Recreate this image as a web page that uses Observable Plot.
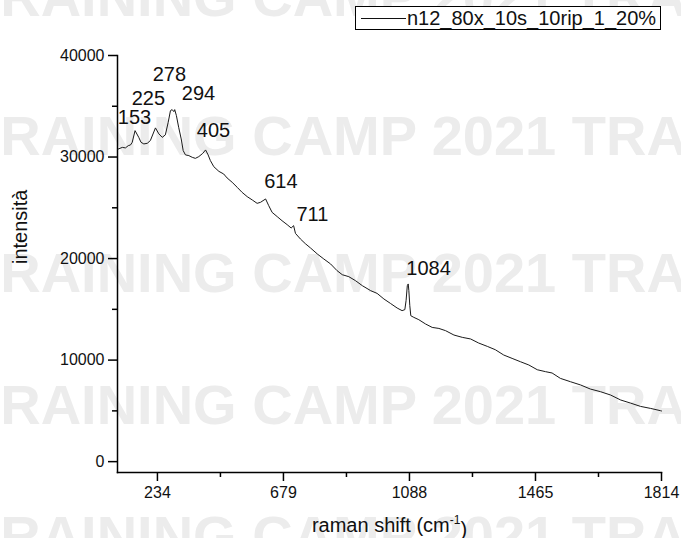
<!DOCTYPE html>
<html><head><meta charset="utf-8">
<script src="https://cdn.jsdelivr.net/npm/d3@7"></script>
<script src="https://cdn.jsdelivr.net/npm/@observablehq/plot@0.6"></script>
<style>
html,body{margin:0;padding:0;background:#fff;}
#wrap{position:relative;width:681px;height:538px;overflow:hidden;font-family:Arial,"Liberation Sans",sans-serif;}
.wm{position:absolute;left:-34px;font-weight:bold;font-size:56px;font-family:Arial,"Liberation Sans",sans-serif;line-height:56px;color:#ececec;white-space:nowrap;z-index:0;}
#legendRow{position:relative;height:36px;z-index:1;}
#legend{position:absolute;left:355px;top:6px;width:304px;height:22px;border:1px solid #000;background:#fff;}
#legend .ln{position:absolute;left:5px;top:11px;width:45px;border-top:1px solid #111;}
#legend .tx{position:absolute;left:51px;top:0px;font-size:20px;line-height:22px;color:#111;white-space:nowrap;}
#chart{position:relative;z-index:1;}
</style>
</head><body>
<div id="wrap">
  <div class="wm" style="top:-31px">TRAINING CAMP 2021 TRAINING CAMP</div>
  <div class="wm" style="top:108px">TRAINING CAMP 2021 TRAINING CAMP</div>
  <div class="wm" style="top:245px">TRAINING CAMP 2021 TRAINING CAMP</div>
  <div class="wm" style="top:377px">TRAINING CAMP 2021 TRAINING CAMP</div>
  <div class="wm" style="top:508px">TRAINING CAMP 2021 TRAINING CAMP</div>
  <div id="legendRow"><div id="legend"><div class="ln"></div><div class="tx" id="legtext"></div></div></div>
  <div id="chart"></div>
</div>
<script>
// ---- data ----
const seriesName = "n12_80x_10s_10rip_1_20%";
const shift = [95,110,121,131,139,145,155,168,176,186,198,209,227,239,251,262,272,280,286,292,295,301,309,318,325,333,345,357,368,380,394,404,413,421,433,451,468,480,498,516,533,551,569,586,598,616,627,639,657,674,691,704,712,718,734,750,767,789,810,832,853,870,891,913,935,962,983,1005,1026,1048,1064,1073,1077,1081,1084,1086,1089,1092,1101,1116,1136,1156,1176,1196,1221,1246,1271,1295,1321,1345,1370,1395,1420,1445,1470,1493,1511,1534,1562,1590,1617,1645,1673,1701,1728,1756,1784,1811,1814];
const intensity = [30780,30950,30900,31120,31190,31450,32600,31940,31450,31290,31350,31620,32870,32280,31940,32180,33420,34570,34670,34470,34670,34080,32930,31780,30630,30210,30140,29970,29870,30040,30360,30700,30210,29650,29050,28590,28330,27940,27510,27010,26520,26100,25770,25440,25540,25870,25210,24550,24130,23730,23340,23010,23240,22480,21930,21470,21040,20450,19960,19470,18810,18410,18220,17820,17330,16840,16570,16020,15590,15130,14870,14970,15850,17330,17500,16840,15360,14370,14210,13980,13560,13220,13120,12900,12470,12240,12080,11680,11350,11020,10500,10170,9840,9520,9050,8860,8730,8200,7870,7550,7150,6890,6560,6070,5770,5440,5240,5020,4990];
const peakLabels = ["153","225","278","294","405","614","711","1084"];
const peakLabelX = [153,202,276,379,432,670,773,1145];
const peakLabelY = [33910,35770,38140,36220,32560,27580,24370,19030];
const xTicks = [234,679,1088,1465,1814];
const xStart = 93;
const yTicks = [0,10000,20000,30000,40000];
const yMinorTicks = [5000,15000,25000,35000];
const xLabel = "raman shift (cm-1)";
const yLabel = "intensità";

// The original axis is evenly spaced between its (non-uniform) tick labels:
// map raman shift to an axis coordinate that is piecewise linear between ticks.
const axisPos = d3.scaleLinear().domain(xTicks).range(xTicks.map((_, i) => i));
const spectrum = shift.map((s,i)=>({shift:s, intensity:intensity[i]}));
const peaks = peakLabels.map((t,i)=>({t, x:peakLabelX[i], y:peakLabelY[i]}));
const tickPos = xTicks.map(t => axisPos(t));
const minorPos = tickPos.slice(1).map((p,i)=>(p+tickPos[i])/2);

document.getElementById("legtext").textContent = seriesName;

const font = "Arial, 'Liberation Sans', sans-serif";
const chart = Plot.plot({
  width: 681, height: 502,
  marginLeft: 117, marginRight: 20, marginTop: 19, marginBottom: 66,
  style: {background: "transparent", fontFamily: font, color: "#111", overflow: "visible"},
  x: {domain: [axisPos(xStart), axisPos(xTicks[xTicks.length-1])]},
  y: {domain: [-1070, 40000]},
  marks: [
    Plot.axisY({ticks: yTicks, tickSize: 9, tickPadding: 4, tickFormat: d => String(d), fontSize: 16, label: null, strokeWidth: 1.5, stroke: "#000"}),
    Plot.axisY({ticks: yMinorTicks, tickSize: 5, tickFormat: () => "", label: null, strokeWidth: 1.5, stroke: "#000"}),
    Plot.axisX({ticks: tickPos, tickSize: 9, tickPadding: 5, tickFormat: (d, i) => String(xTicks[i]), fontSize: 16, label: null, strokeWidth: 1.5, stroke: "#000"}),
    Plot.axisX({ticks: minorPos, tickSize: 5, tickFormat: () => "", label: null, strokeWidth: 1.5, stroke: "#000"}),
    Plot.frame({anchor: "left", stroke: "#000", strokeWidth: 1.5}),
    Plot.frame({anchor: "bottom", stroke: "#000", strokeWidth: 1.5}),
    Plot.line(spectrum, {x: d => axisPos(d.shift), y: "intensity", stroke: "#1a1a1a", strokeWidth: 1}),
    Plot.text(peaks, {x: d => axisPos(d.x), y: "y", text: "t", fontSize: 20, fill: "#111"}),
    Plot.text([yLabel], {frameAnchor: "left", rotate: -90, dx: -97, fontSize: 20, fill: "#111"}),
    Plot.text([xLabel], {frameAnchor: "bottom", dy: 59, fontSize: 20, fill: "#111"})
  ]
});
document.getElementById("chart").appendChild(chart);
// superscript for cm-1
d3.select(chart).selectAll("text").each(function(){
  if (this.textContent === xLabel) {
    const t = d3.select(this);
    t.text(null);
    t.append("tspan").text("raman shift (cm");
    t.append("tspan").attr("font-size", 12).attr("dy", "-0.6em").text("-1");
    t.append("tspan").attr("dy", "0.6em").text(")");
  }
});
</script>
</body></html>
